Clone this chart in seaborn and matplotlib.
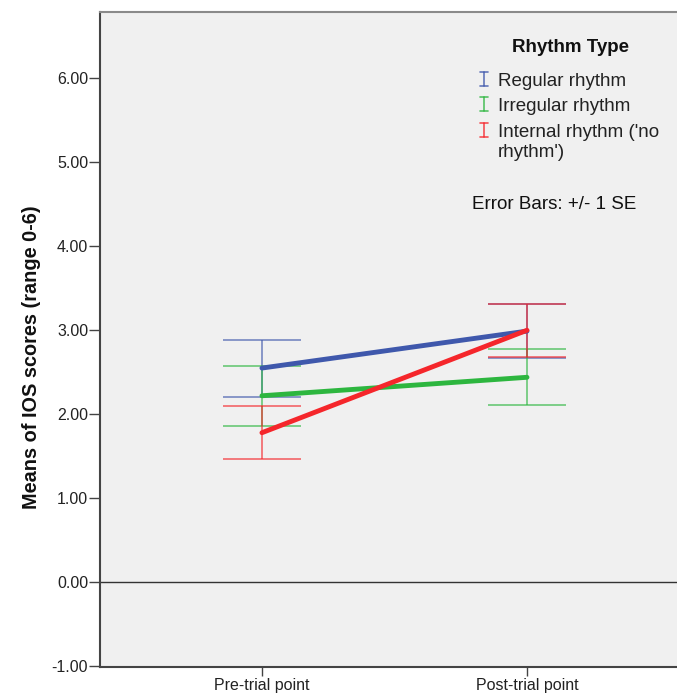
import matplotlib
matplotlib.use("Agg")
import matplotlib.pyplot as plt
import seaborn as sns
import pandas as pd
from matplotlib.lines import Line2D

# ---- data ----
timepoints = ["Pre-trial point", "Post-trial point"]
groups = ["Regular rhythm", "Irregular rhythm", "Internal rhythm ('no\nrhythm')"]
regular_mean = [2.55, 2.99]
regular_se = [0.34, 0.32]
irregular_mean = [2.22, 2.44]
irregular_se = [0.36, 0.335]
internal_mean = [1.78, 3.00]
internal_se = [0.315, 0.315]
yticks = [-1, 0, 1, 2, 3, 4, 5, 6]

colors = ["#3F58AC", "#2DB63F", "#F5262B"]
means = [regular_mean, irregular_mean, internal_mean]
ses = [regular_se, irregular_se, internal_se]

rows = []
for g, m, s in zip(groups, means, ses):
    for i, t in enumerate(timepoints):
        rows.append({"group": g, "time": t, "x": i, "mean": m[i], "se": s[i]})
df = pd.DataFrame(rows)

sns.set_theme(style="white")
plt.rcParams["font.family"] = ["Liberation Sans", "DejaVu Sans"]

fig = plt.figure(figsize=(6.77, 6.98), dpi=100)
fig.patch.set_facecolor("white")
ax = fig.add_axes([100 / 677, 1 - 667 / 698, 1 - 100 / 677, (667 - 12) / 698])
ax.set_facecolor("#F0F0F0")

# zero reference line
ax.axhline(0, color="#333333", lw=1.0, zorder=1)

# error bars
for g, c in zip(groups, colors):
    sub = df[df.group == g]
    ax.errorbar(sub["x"], sub["mean"], yerr=sub["se"], fmt="none",
                ecolor=c, elinewidth=1.1, capsize=28, capthick=1.1,
                alpha=0.75, zorder=2)

# mean lines
sns.lineplot(data=df, x="x", y="mean", hue="group", palette=colors,
             hue_order=groups, linewidth=3.5, legend=False, ax=ax, zorder=3,
             estimator=None, sort=False)

ax.set_xlim(-0.611, 1.566)
ax.set_ylim(-1.01, 6.79)
ax.set_yticks(yticks)
ax.set_yticklabels([f"{v:.2f}" for v in yticks], fontsize=11.5, color="#222222")
ax.set_xticks([0, 1])
ax.set_xticklabels(timepoints, fontsize=11.5, color="#222222")
ax.set_xlabel("")
ax.set_ylabel("Means of IOS scores (range 0-6)", fontsize=14.3, fontweight="bold",
              color="#111111")
ax.yaxis.set_label_coords((41 - 100) / 577, (667 - 357) / 655)
ax.tick_params(axis="y", direction="out", length=8, width=1, color="#444444",
               left=True, pad=0.5)
ax.tick_params(axis="x", direction="out", length=6.5, width=1, color="#444444",
               bottom=True, pad=1.5)

for side in ["left", "bottom"]:
    ax.spines[side].set_color("#444444")
    ax.spines[side].set_linewidth(1.5)
ax.spines["top"].set_color("#8A8A8A")
ax.spines["top"].set_linewidth(1.5)
ax.spines["right"].set_visible(False)

# legend (manual, SPSS style)
def fx(px):
    return px / 677
def fy(py):
    return 1 - py / 698

fig.text(fx(570), fy(47), "Rhythm Type", fontsize=13.5, fontweight="bold",
         ha="center", va="center", color="#111111")
entry_base = [86, 111, 137]
for g, c, yb in zip(groups, colors, entry_base):
    # small error-bar glyph
    top, bot = yb - 14, yb
    for seg in [((484, 484), (top, bot)), ((480, 488), (top, top)), ((480, 488), (bot, bot))]:
        fig.add_artist(Line2D([fx(v) for v in seg[0]], [fy(v) for v in seg[1]],
                              color=c, lw=1.2, alpha=0.8))
    for k, line in enumerate(g.split("\n")):
        fig.text(fx(498), fy(yb + 20 * k), line, fontsize=13.5, color="#222222",
                 ha="left", va="baseline")
fig.text(fx(472), fy(209), "Error Bars: +/- 1 SE", fontsize=13.5, color="#111111",
         ha="left", va="baseline")

fig.savefig("out.png", dpi=100, facecolor="white")
